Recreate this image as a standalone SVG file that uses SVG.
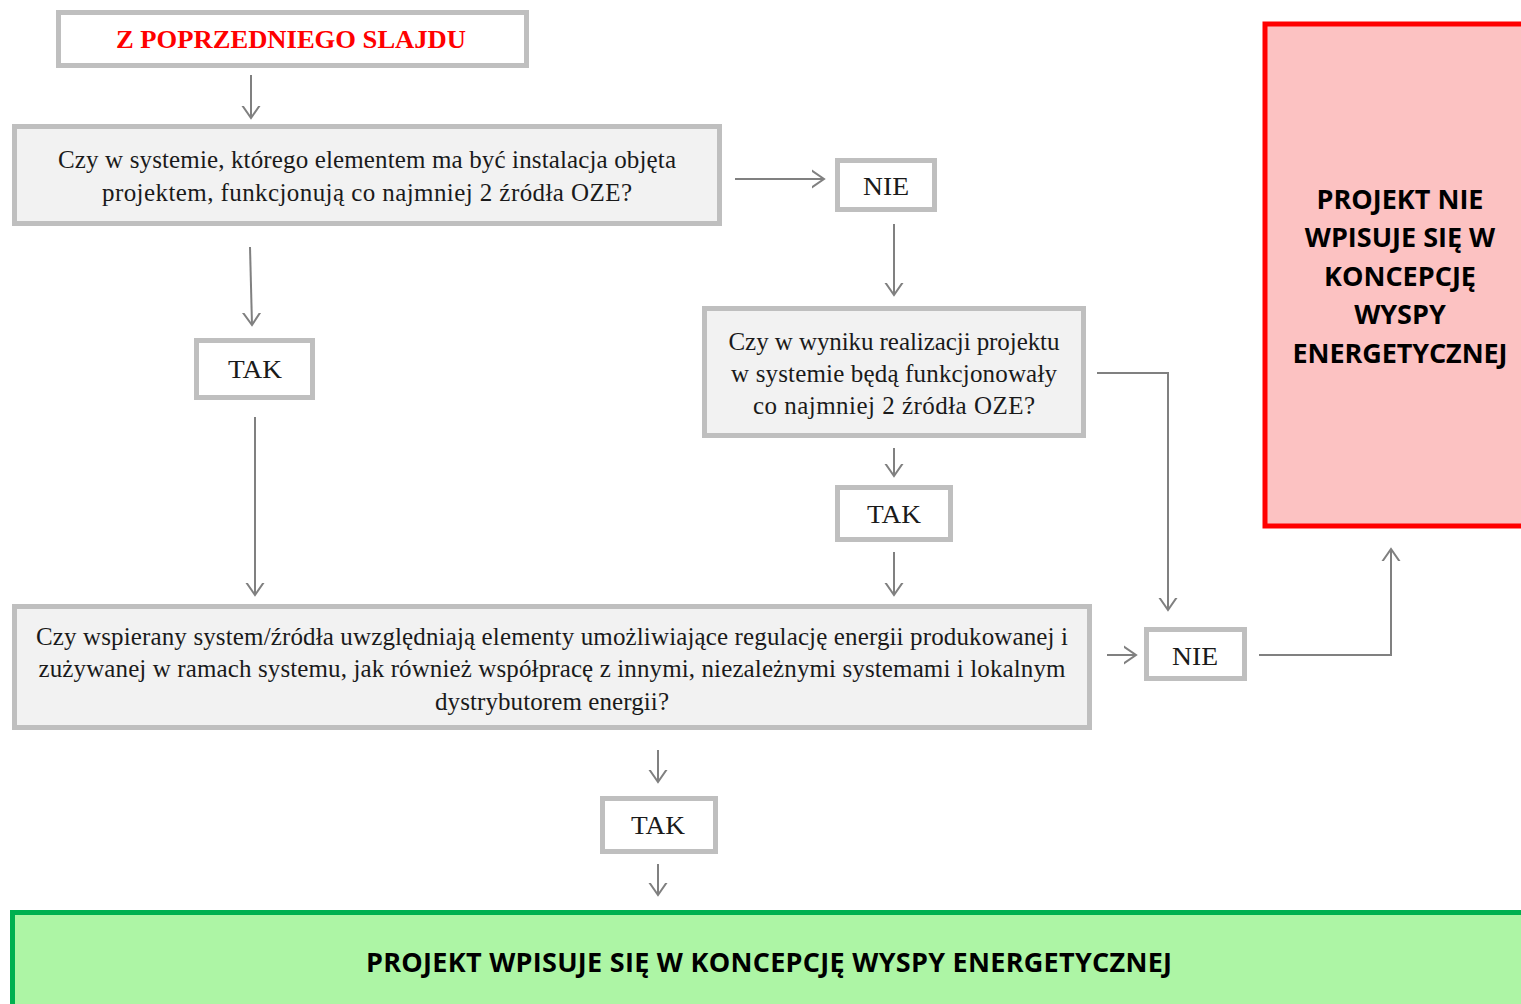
<svg xmlns="http://www.w3.org/2000/svg" width="1521" height="1004" viewBox="0 0 1521 1004">
<defs>
<style>
.box{fill:#ffffff;stroke:#bfbfbf;stroke-width:5}
.q{fill:#f2f2f2;stroke:#bfbfbf;stroke-width:5}
.t{font-family:"Liberation Serif",serif;font-size:25px;fill:#1a1a1a;text-anchor:middle}
.b{font-family:"Open Sans","Liberation Sans",sans-serif;font-weight:bold;font-size:27px;fill:#000;text-anchor:middle}
.c{fill:none;stroke:#808080;stroke-width:2;marker-end:url(#arr)}
</style>
<marker id="arr" markerUnits="userSpaceOnUse" markerWidth="24" markerHeight="24" viewBox="-12 -12 24 24" refX="0" refY="0" orient="auto">
<path d="M-13,-9 L0,0 L-13,9" fill="none" stroke="#808080" stroke-width="2"/>
</marker>
</defs>
<rect width="1521" height="1004" fill="#ffffff"/>
<g id="connectors">
<line class="c" x1="251" y1="75" x2="251" y2="118"/>
<line class="c" x1="735" y1="179" x2="824" y2="179"/>
<line class="c" x1="894" y1="224" x2="894" y2="295"/>
<line class="c" x1="250" y1="247" x2="252" y2="325"/>
<line class="c" x1="894" y1="448" x2="894" y2="476"/>
<line class="c" x1="894" y1="552" x2="894" y2="595"/>
<line class="c" x1="255" y1="417" x2="255" y2="595"/>
<polyline class="c" points="1097,373 1168,373 1168,610"/>
<line class="c" x1="1107" y1="655" x2="1136" y2="655"/>
<polyline class="c" points="1259,655 1391,655 1391,549"/>
<line class="c" x1="658" y1="750" x2="658" y2="782"/>
<line class="c" x1="658" y1="864" x2="658" y2="895"/>
</g>
<g id="n-start">
<rect class="box" x="58.5" y="12.5" width="468" height="53"/>
<text x="291" y="48" textLength="350" lengthAdjust="spacingAndGlyphs" style="font-family:'Liberation Serif',serif;font-weight:bold;font-size:25px;fill:#ff0000;text-anchor:middle">Z POPRZEDNIEGO SLAJDU</text>
</g>
<g id="n-q1">
<rect class="q" x="14.5" y="126.5" width="705" height="97"/>
<text class="t" x="367" y="168" textLength="618">Czy w systemie, którego elementem ma być instalacja objęta</text>
<text class="t" x="367" y="201" textLength="530">projektem, funkcjonują co najmniej 2 źródła OZE?</text>
</g>
<g id="n-nie1">
<rect class="box" x="837.5" y="160.5" width="97" height="49"/>
<text class="t" x="886" y="195" textLength="46" lengthAdjust="spacingAndGlyphs">NIE</text>
</g>
<g id="n-q2">
<rect class="q" x="704.5" y="308.5" width="379" height="127"/>
<text class="t" x="894" y="350" textLength="331">Czy w wyniku realizacji projektu</text>
<text class="t" x="894" y="382" textLength="326">w systemie będą funkcjonowały</text>
<text class="t" x="894" y="414" textLength="282">co najmniej 2 źródła OZE?</text>
</g>
<g id="n-tak2">
<rect class="box" x="837.5" y="487.5" width="113" height="52"/>
<text class="t" x="894" y="523" textLength="54" lengthAdjust="spacingAndGlyphs">TAK</text>
</g>
<g id="n-tak1">
<rect class="box" x="196.5" y="340.5" width="116" height="57"/>
<text class="t" x="255" y="378" textLength="54" lengthAdjust="spacingAndGlyphs">TAK</text>
</g>
<g id="n-q3">
<rect class="q" x="14.5" y="606.5" width="1075" height="121"/>
<text class="t" x="552" y="645" textLength="1032">Czy wspierany system/źródła uwzględniają elementy umożliwiające regulację energii produkowanej i</text>
<text class="t" x="552" y="677" textLength="1027">zużywanej w ramach systemu, jak również współpracę z innymi, niezależnymi systemami i lokalnym</text>
<text class="t" x="552" y="710" textLength="234">dystrybutorem energii?</text>
</g>
<g id="n-nie2">
<rect class="box" x="1146.5" y="629.5" width="98" height="49"/>
<text class="t" x="1195" y="665" textLength="46" lengthAdjust="spacingAndGlyphs">NIE</text>
</g>
<g id="n-tak3">
<rect class="box" x="602.5" y="798.5" width="113" height="53"/>
<text class="t" x="658" y="834" textLength="54" lengthAdjust="spacingAndGlyphs">TAK</text>
</g>
<g id="n-no">
<rect x="1265" y="24" width="262" height="502" fill="#fcc2c2" stroke="#ff0000" stroke-width="5"/>
<text class="b" x="1400" y="209">PROJEKT NIE</text>
<text class="b" x="1400" y="247">WPISUJE SIĘ W</text>
<text class="b" x="1400" y="286">KONCEPCJĘ</text>
<text class="b" x="1400" y="324">WYSPY</text>
<text class="b" x="1400" y="363" textLength="215">ENERGETYCZNEJ</text>
</g>
<g id="n-yes">
<rect x="12.5" y="912.5" width="1515" height="100" fill="#adf5a5" stroke="#00b050" stroke-width="5"/>
<text class="b" x="769" y="972" textLength="806">PROJEKT WPISUJE SIĘ W KONCEPCJĘ WYSPY ENERGETYCZNEJ</text>
</g>
</svg>
